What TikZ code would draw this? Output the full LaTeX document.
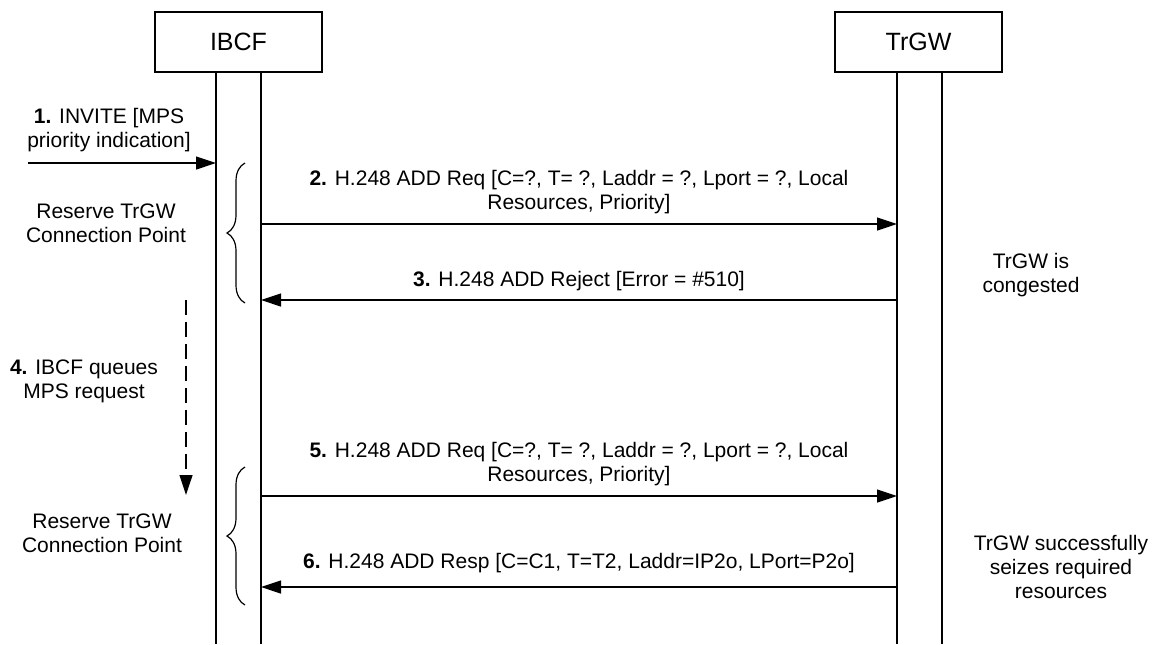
\documentclass[tikz,border=0pt]{standalone}
\usepackage{fontspec}
\setmainfont{Liberation Sans}
\usetikzlibrary{arrows.meta,decorations.pathreplacing,positioning}

\begin{document}
\begin{tikzpicture}[x=0.5pt,y=-0.5pt,line width=0.6pt,
    entity/.style={draw,minimum width=83.5pt,minimum height=30pt,inner sep=0pt,font=\fontsize{12.5}{15}\selectfont},
    msg/.style={-{Triangle[length=10pt,width=6.5pt]}},
    lbl/.style={align=center,inner sep=0pt,font=\fontsize{10.5}{12}\selectfont},
    grp/.style={decorate,decoration={brace,amplitude=9pt}}]

  \useasboundingbox (0,0) rectangle (1152,644);

  % entities
  \node[entity] (ibcf) at (238.5,42) {IBCF};
  \node[entity] (trgw) at (918.5,42) {TrGW};

  % lifelines
  \coordinate (ibcfL) at (216,72);
  \coordinate (ibcfR) at (261,72);
  \coordinate (trgwL) at (897,72);
  \coordinate (trgwR) at (942,72);
  \coordinate (bottom) at (0,644);
  \foreach \l in {ibcfL,ibcfR,trgwL,trgwR}
    \draw (\l) -- (\l |- bottom);

  % message ends
  \coordinate (src1) at (28,163);
  \coordinate (dst1) at (216,163);
  \coordinate (a2) at (261,224);
  \coordinate (b2) at (897,224);
  \coordinate (a3) at (261,300);
  \coordinate (b3) at (897,300);
  \coordinate (q1) at (186,300);
  \coordinate (q2) at (186,495);
  \coordinate (a5) at (261,496);
  \coordinate (b5) at (897,496);
  \coordinate (a6) at (261,587);
  \coordinate (b6) at (897,587);

  % labels
  \node[lbl] (m1) at (109,130) {{\bfseries 1.} INVITE [MPS\\priority indication]};
  \node[lbl] (m2) at (579,192) {{\bfseries 2.} H.248 ADD Req [C=?, T= ?, Laddr = ?, Lport = ?, Local\\Resources, Priority]};
  \node[lbl] (m3) at (579,281) {{\bfseries 3.} H.248 ADD Reject [Error = \#510]};
  \node[lbl] (m4) at (84,381) {{\bfseries 4.} IBCF queues\\MPS request};
  \node[lbl] (m5) at (579,464) {{\bfseries 5.} H.248 ADD Req [C=?, T= ?, Laddr = ?, Lport = ?, Local\\Resources, Priority]};
  \node[lbl] (m6) at (579,563) {{\bfseries 6.} H.248 ADD Resp [C=C1, T=T2, Laddr=IP2o, LPort=P2o]};
  \node[lbl] (res1) at (106,223) {Reserve TrGW\\Connection Point};
  \node[lbl] (res2) at (102,533) {Reserve TrGW\\Connection Point};
  \node[lbl] (cong) at (1031,275) {TrGW is\\congested};
  \node[lbl] (seize) at (1061,567) {TrGW successfully\\seizes required\\resources};

  % messages
  \draw[msg] (src1) -- (dst1);
  \draw[msg] (a2) -- (b2);
  \draw[msg] (b3) -- (a3);
  \draw[msg,dash pattern=on 7.5pt off 3.5pt] (q1) -- (q2);
  \draw[msg] (a5) -- (b5);
  \draw[msg] (b6) -- (a6);

  % braces
  \draw[grp] (245,303) -- (245,163);
  \draw[grp] (245,605) -- (245,467);
\end{tikzpicture}
\end{document}
